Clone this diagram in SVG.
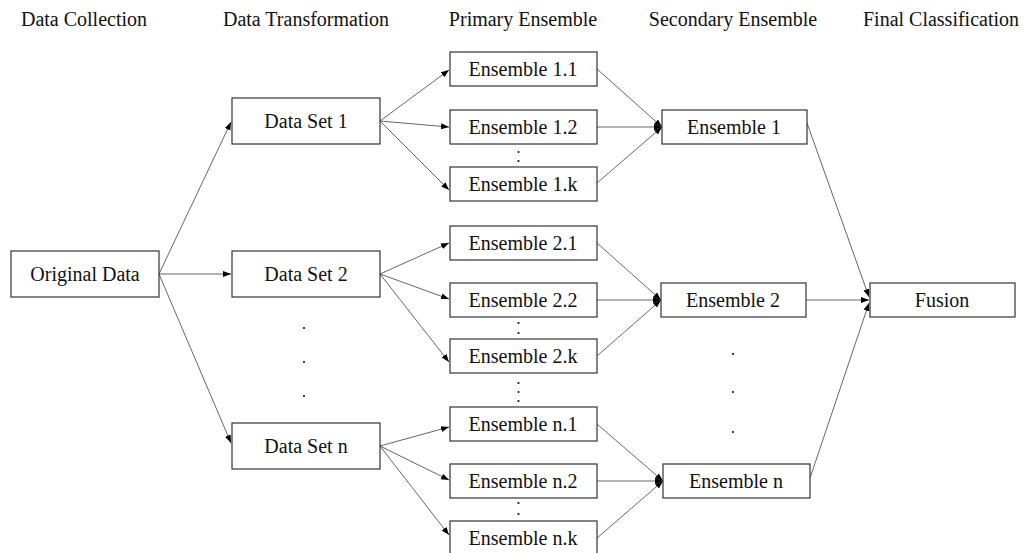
<svg xmlns="http://www.w3.org/2000/svg" width="1031" height="553" viewBox="0 0 1031 553">
<style>
.box{fill:#fff;stroke:#333;stroke-width:1.2}
.t{font-family:'Liberation Serif','DejaVu Serif','Times New Roman',Times,serif;font-size:20px;fill:#111;text-anchor:middle}
.c{fill:none;stroke:#555;stroke-width:0.9}
.d{fill:#111}
</style>
<defs>
<marker id="ah" markerUnits="userSpaceOnUse" markerWidth="9" markerHeight="8" refX="8" refY="4" orient="auto">
<path d="M0,1 L8,4 L0,7 Z" fill="#000"/>
</marker>
</defs>
<rect width="1031" height="553" fill="#fff"/>
<g id="headers" font-family="Liberation Serif, DejaVu Serif, serif">
<text class="t" x="84" y="26">Data Collection</text>
<text class="t" x="306" y="26">Data Transformation</text>
<text class="t" x="523" y="26">Primary Ensemble</text>
<text class="t" x="733" y="26">Secondary Ensemble</text>
<text class="t" x="941" y="26">Final Classification</text>
</g>
<g id="connectors">
<line class="c" x1="159" y1="274" x2="231" y2="122" marker-end="url(#ah)"/>
<line class="c" x1="159" y1="274" x2="231" y2="274" marker-end="url(#ah)"/>
<line class="c" x1="159" y1="274" x2="231" y2="443" marker-end="url(#ah)"/>
<line class="c" x1="380" y1="121" x2="449" y2="70" marker-end="url(#ah)"/>
<line class="c" x1="380" y1="121" x2="449" y2="127" marker-end="url(#ah)"/>
<line class="c" x1="380" y1="121" x2="449" y2="190" marker-end="url(#ah)"/>
<line class="c" x1="380" y1="274" x2="449" y2="243" marker-end="url(#ah)"/>
<line class="c" x1="380" y1="274" x2="449" y2="299" marker-end="url(#ah)"/>
<line class="c" x1="380" y1="274" x2="449" y2="362" marker-end="url(#ah)"/>
<line class="c" x1="380" y1="446" x2="449" y2="427" marker-end="url(#ah)"/>
<line class="c" x1="380" y1="446" x2="449" y2="480" marker-end="url(#ah)"/>
<line class="c" x1="380" y1="446" x2="449" y2="535" marker-end="url(#ah)"/>
<line class="c" x1="597" y1="69" x2="662" y2="127" marker-end="url(#ah)"/>
<line class="c" x1="597" y1="127" x2="662" y2="127" marker-end="url(#ah)"/>
<line class="c" x1="597" y1="183" x2="662" y2="127" marker-end="url(#ah)"/>
<line class="c" x1="597" y1="243" x2="661" y2="300" marker-end="url(#ah)"/>
<line class="c" x1="597" y1="300" x2="661" y2="300" marker-end="url(#ah)"/>
<line class="c" x1="597" y1="356" x2="661" y2="300" marker-end="url(#ah)"/>
<line class="c" x1="597" y1="424" x2="663" y2="481" marker-end="url(#ah)"/>
<line class="c" x1="597" y1="481" x2="663" y2="481" marker-end="url(#ah)"/>
<line class="c" x1="597" y1="538" x2="663" y2="481" marker-end="url(#ah)"/>
<line class="c" x1="807" y1="123" x2="869" y2="297" marker-end="url(#ah)"/>
<line class="c" x1="806" y1="300" x2="869" y2="300" marker-end="url(#ah)"/>
<line class="c" x1="810" y1="478" x2="869" y2="303" marker-end="url(#ah)"/>
</g>
<g id="n-original"><rect class="box" x="11" y="251" width="148" height="46"/><text class="t" x="85" y="281">Original Data</text></g>
<g id="n-ds1"><rect class="box" x="232" y="98" width="148" height="46"/><text class="t" x="306" y="128">Data Set 1</text></g>
<g id="n-ds2"><rect class="box" x="232" y="251" width="148" height="46"/><text class="t" x="306" y="281">Data Set 2</text></g>
<g id="n-dsn"><rect class="box" x="232" y="423" width="148" height="46"/><text class="t" x="306" y="453">Data Set n</text></g>
<g id="n-e11"><rect class="box" x="450" y="52" width="147" height="34"/><text class="t" x="523" y="76">Ensemble 1.1</text></g>
<g id="n-e12"><rect class="box" x="450" y="110" width="147" height="34"/><text class="t" x="523" y="134">Ensemble 1.2</text></g>
<g id="n-e1k"><rect class="box" x="450" y="167" width="147" height="34"/><text class="t" x="523" y="191">Ensemble 1.k</text></g>
<g id="n-e21"><rect class="box" x="450" y="226" width="147" height="34"/><text class="t" x="523" y="250">Ensemble 2.1</text></g>
<g id="n-e22"><rect class="box" x="450" y="283" width="147" height="34"/><text class="t" x="523" y="307">Ensemble 2.2</text></g>
<g id="n-e2k"><rect class="box" x="450" y="339" width="147" height="34"/><text class="t" x="523" y="363">Ensemble 2.k</text></g>
<g id="n-en1"><rect class="box" x="450" y="407" width="147" height="34"/><text class="t" x="523" y="431">Ensemble n.1</text></g>
<g id="n-en2"><rect class="box" x="450" y="464" width="147" height="34"/><text class="t" x="523" y="488">Ensemble n.2</text></g>
<g id="n-enk"><rect class="box" x="450" y="521" width="147" height="34"/><text class="t" x="523" y="545">Ensemble n.k</text></g>
<g id="n-e1"><rect class="box" x="662" y="110" width="145" height="34"/><text class="t" x="734" y="134">Ensemble 1</text></g>
<g id="n-e2"><rect class="box" x="661" y="283" width="145" height="34"/><text class="t" x="733" y="307">Ensemble 2</text></g>
<g id="n-en"><rect class="box" x="663" y="464" width="147" height="34"/><text class="t" x="736" y="488">Ensemble n</text></g>
<g id="n-fusion"><rect class="box" x="870" y="283" width="145" height="34"/><text class="t" x="942" y="307">Fusion</text></g>
<g id="dots">
<circle class="d" cx="518.5" cy="152" r="1.1"/><circle class="d" cx="518.5" cy="161" r="1.1"/>
<circle class="d" cx="518.5" cy="323" r="1.1"/><circle class="d" cx="518.5" cy="333" r="1.1"/>
<circle class="d" cx="518.5" cy="383" r="1.1"/><circle class="d" cx="518.5" cy="392" r="1.1"/><circle class="d" cx="518.5" cy="401" r="1.1"/>
<circle class="d" cx="518.5" cy="503" r="1.1"/><circle class="d" cx="518.5" cy="514" r="1.1"/>
<circle class="d" cx="304" cy="328" r="1.1"/><circle class="d" cx="304" cy="362" r="1.1"/><circle class="d" cx="304" cy="396" r="1.1"/>
<circle class="d" cx="733" cy="354" r="1.1"/><circle class="d" cx="733" cy="392" r="1.1"/><circle class="d" cx="733" cy="432" r="1.1"/>
</g>
</svg>
